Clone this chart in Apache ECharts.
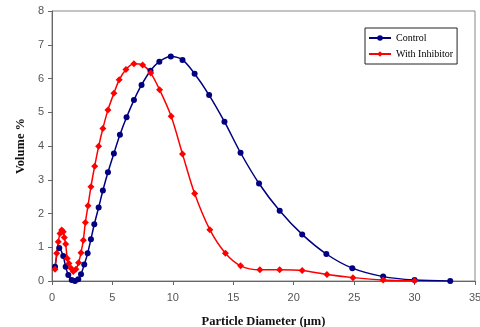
<!DOCTYPE html>
<html>
<head>
<meta charset="utf-8">
<script src="https://cdn.jsdelivr.net/npm/echarts@6/dist/echarts.min.js"></script>
<style>
  html, body { margin: 0; padding: 0; background: #fff; }
  #chart { width: 480px; height: 327px; }
</style>
</head>
<body>
<div id="chart"></div>
<script>
  // Control: [diameter, volume %]
  const controlX = [0.25, 0.6, 0.93, 1.13, 1.35, 1.63, 1.9, 2.17, 2.4, 2.67, 2.95, 3.22, 3.5, 3.86, 4.21, 4.63, 5.12, 5.62, 6.17, 6.78, 7.41, 8.15, 8.88, 9.83, 10.8, 11.8, 13.0, 14.27, 15.6, 17.13, 18.84, 20.7, 22.7, 24.85, 27.4, 30.0, 32.95];
  const controlY = [0.42, 0.98, 0.74, 0.42, 0.18, 0.03, 0.0, 0.05, 0.2, 0.49, 0.82, 1.24, 1.68, 2.18, 2.68, 3.22, 3.78, 4.33, 4.85, 5.36, 5.81, 6.23, 6.5, 6.65, 6.55, 6.14, 5.51, 4.72, 3.8, 2.89, 2.08, 1.38, 0.8, 0.38, 0.13, 0.03, 0.0];
  // With Inhibitor
  const inhibX = [0.25, 0.39, 0.52, 0.66, 0.8, 0.93, 1.02, 1.13, 1.26, 1.4, 1.57, 1.76, 1.98, 2.2, 2.4, 2.59, 2.76, 2.98, 3.22, 3.53, 3.86, 4.21, 4.63, 5.12, 5.56, 6.12, 6.78, 7.5, 8.17, 8.9, 9.86, 10.8, 11.8, 13.06, 14.35, 15.6, 17.2, 18.84, 20.7, 22.75, 24.9, 27.4, 30.0];
  const inhibY = [0.35, 0.82, 1.16, 1.41, 1.51, 1.46, 1.29, 1.1, 0.67, 0.52, 0.38, 0.28, 0.35, 0.54, 0.84, 1.21, 1.73, 2.23, 2.79, 3.4, 3.99, 4.52, 5.07, 5.56, 5.96, 6.27, 6.44, 6.4, 6.16, 5.67, 4.88, 3.76, 2.59, 1.52, 0.82, 0.45, 0.33, 0.33, 0.31, 0.19, 0.1, 0.03, 0.01];

  const zip = (xs, ys) => xs.map((x, i) => [x, ys[i]]);

  const chart = echarts.init(document.getElementById('chart'));
  chart.setOption({
    animation: false,
    textStyle: { fontFamily: 'Liberation Sans' },
    grid: {
      left: 52, right: 5, top: 11, bottom: 46,
      outerBoundsMode: 'none',
      show: true, borderColor: '#888', borderWidth: 1
    },
    legend: {
      left: 365, top: 28,
      orient: 'vertical',
      itemWidth: 22, itemHeight: 7, itemGap: 6,
      padding: [5, 4, 5, 3],
      borderColor: '#222', borderWidth: 1,
      backgroundColor: '#fff',
      textStyle: { fontFamily: 'Liberation Serif', fontSize: 10, color: '#000' },
      data: ['Control', 'With Inhibitor']
    },
    xAxis: {
      type: 'value', min: 0, max: 35, interval: 5,
      name: 'Particle Diameter (\u00b5m)', nameLocation: 'middle', nameGap: 34,
      nameTextStyle: { fontFamily: 'Liberation Serif', fontWeight: 'bold', fontSize: 12.5, color: '#111' },
      axisLine: { lineStyle: { color: '#666' } },
      axisTick: { inside: false, length: 4, lineStyle: { color: '#666' } },
      axisLabel: { color: '#555', fontSize: 11, margin: 11 },
      splitLine: { show: false }
    },
    yAxis: {
      type: 'value', min: 0, max: 8, interval: 1,
      name: 'Volume %', nameLocation: 'middle', nameGap: 24,
      nameTextStyle: { fontFamily: 'Liberation Serif', fontWeight: 'bold', fontSize: 12.5, color: '#111' },
      axisLine: { show: true, lineStyle: { color: '#666' } },
      axisTick: { show: true, inside: false, length: 4, lineStyle: { color: '#666' } },
      axisLabel: { color: '#555', fontSize: 11, margin: 8 },
      splitLine: { show: false }
    },
    series: [
      {
        name: 'Control', type: 'line', smooth: 0.3,
        data: zip(controlX, controlY),
        symbol: 'circle', symbolSize: 6,
        lineStyle: { color: '#000080', width: 1.5 },
        itemStyle: { color: '#000080' }
      },
      {
        name: 'With Inhibitor', type: 'line', smooth: 0.3,
        data: zip(inhibX, inhibY),
        symbol: 'diamond', symbolSize: 7,
        lineStyle: { color: '#ff0000', width: 1.5 },
        itemStyle: { color: '#ff0000' }
      }
    ]
  });
</script>
</body>
</html>
